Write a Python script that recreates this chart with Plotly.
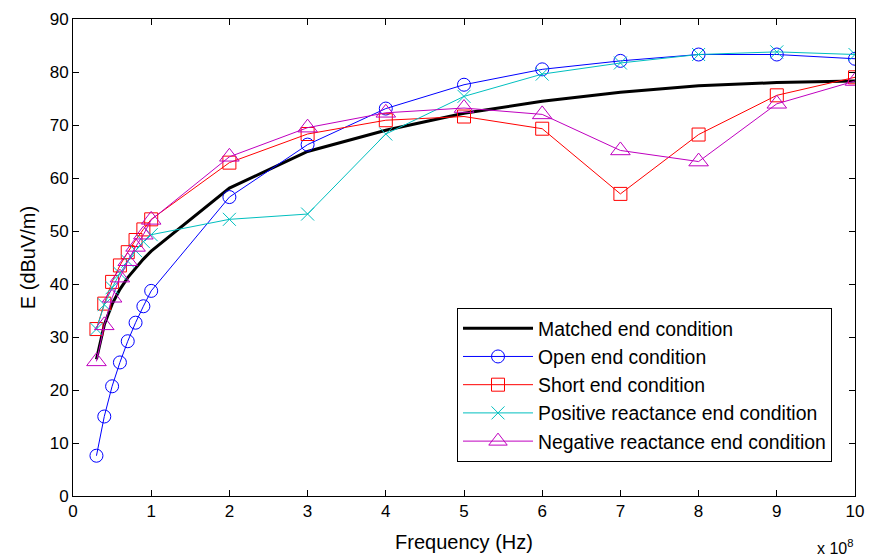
import plotly.graph_objects as go

# Frequency points (Hz)
freq = [0.3e8, 0.4e8, 0.5e8, 0.6e8, 0.7e8, 0.8e8, 0.9e8, 1.0e8,
        2e8, 3e8, 4e8, 5e8, 6e8, 7e8, 8e8, 9e8, 10e8]

matched = [25.8, 32.3, 36.2, 39.0, 41.2, 43.0, 44.7, 46.2,
           58.1, 65.0, 69.0, 72.2, 74.5, 76.2, 77.4, 78.0, 78.3]
open_end = [7.6, 15.0, 20.7, 25.2, 29.2, 32.7, 35.8, 38.7,
            56.4, 66.3, 73.1, 77.6, 80.5, 82.1, 83.3, 83.3, 82.5]
short_end = [31.5, 36.3, 40.4, 43.5, 46.0, 48.3, 50.3, 52.2,
             62.9, 68.3, 70.9, 71.6, 69.3, 57.0, 68.2, 75.6, 79.0]
pos_react = [31.5, 36.1, 39.3, 42.0, 44.3, 46.3, 48.0, 49.3,
             52.2, 53.2, 68.3, 75.4, 79.6, 81.7, 83.3, 83.8, 83.3]
neg_react = [25.4, 32.2, 37.4, 41.2, 44.3, 47.0, 49.3, 52.1,
             64.0, 69.5, 72.3, 73.2, 72.0, 65.2, 63.1, 74.0, 78.3]

x_tickvals = [0, 1e8, 2e8, 3e8, 4e8, 5e8, 6e8, 7e8, 8e8, 9e8, 10e8]
x_ticktext = ["0", "1", "2", "3", "4", "5", "6", "7", "8", "9", "10"]
y_tickvals = [0, 10, 20, 30, 40, 50, 60, 70, 80, 90]

FONT = "Liberation Sans, Arial, sans-serif"

fig = go.Figure()

fig.add_trace(go.Scatter(
    x=freq, y=matched, mode="lines", name="Matched end condition",
    legendgroup="a",
    line=dict(color="black", width=3)))
fig.add_trace(go.Scatter(
    x=freq, y=open_end, mode="lines+markers", name="Open end condition",
    legendgroup="b",
    line=dict(color="#0000ff", width=1),
    marker=dict(symbol="circle-open", size=13, color="#0000ff",
                line=dict(width=1, color="#0000ff"))))
fig.add_trace(go.Scatter(
    x=freq, y=short_end, mode="lines+markers", name="Short end condition",
    legendgroup="c",
    line=dict(color="#ff0000", width=1),
    marker=dict(symbol="square-open", size=13, color="#ff0000",
                line=dict(width=1, color="#ff0000"))))
fig.add_trace(go.Scatter(
    x=freq, y=pos_react, mode="lines+markers",
    name="Positive reactance end condition",
    legendgroup="d",
    line=dict(color="#00bfbf", width=1),
    marker=dict(symbol="x-thin-open", size=13, color="#00bfbf",
                line=dict(width=1, color="#00bfbf"))))
fig.add_trace(go.Scatter(
    x=freq, y=neg_react, mode="lines+markers",
    name="Negative reactance end condition",
    legendgroup="e",
    line=dict(color="#bf00bf", width=1),
    marker=dict(symbol="triangle-up-open", size=17, color="#bf00bf",
                line=dict(width=1, color="#bf00bf"))))

axis_common = dict(
    showline=True, linecolor="black", linewidth=1, mirror="ticks",
    ticks="inside", ticklen=6, tickcolor="black", tickwidth=1,
    showgrid=False, zeroline=False,
    tickfont=dict(family=FONT, size=17, color="black"),
)

fig.update_xaxes(
    range=[0, 10e8], tickvals=x_tickvals, ticktext=x_ticktext,
    title=dict(text="Frequency (Hz)", font=dict(family=FONT, size=20, color="black"),
               standoff=14),
    **axis_common)
fig.update_yaxes(
    range=[0, 90], tickvals=y_tickvals,
    title=dict(text="E (dBuV/m)", font=dict(family=FONT, size=20, color="black"),
               standoff=8),
    **axis_common)

fig.add_annotation(
    text="x 10<sup>8</sup>", xref="paper", yref="paper",
    x=1.0, y=-0.082, xanchor="right", yanchor="top", showarrow=False,
    font=dict(family=FONT, size=16, color="black"))

fig.update_layout(
    width=871, height=559,
    margin=dict(l=73, r=16, t=19, b=63, autoexpand=False),
    paper_bgcolor="white", plot_bgcolor="white",
    font=dict(family=FONT, color="black"),
    showlegend=True,
    legend=dict(
        x=0.9706, y=0.071, xanchor="right", yanchor="bottom",
        bgcolor="white", bordercolor="black", borderwidth=1,
        font=dict(family=FONT, size=19.4, color="black"),
        tracegroupgap=0, itemwidth=70,
    ),
)

fig.write_html("out.html", config={"displayModeBar": False},
               post_script="document.body.style.margin='0';")
